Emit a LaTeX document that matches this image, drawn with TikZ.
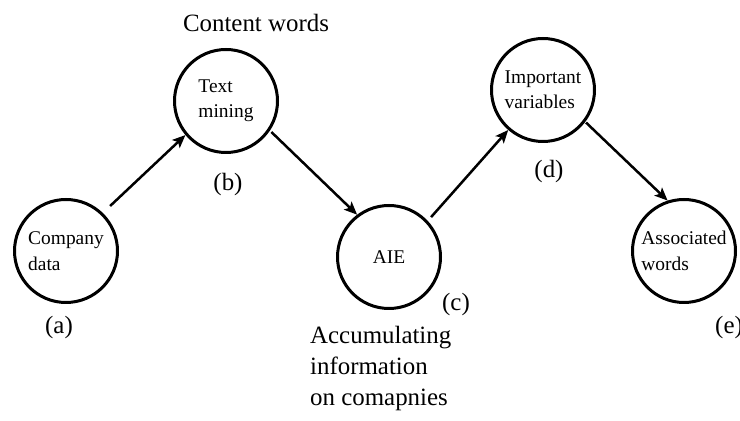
\documentclass[tikz,border=0pt]{standalone}
\usepackage{fontspec}
\setmainfont{Liberation Serif}
\usetikzlibrary{arrows.meta}
\tikzset{
  stage/.style={circle,draw=black,line width=3bp,minimum size=103bp,inner sep=0pt,align=left,
    font=\fontsize{19.5}{25.5}\selectfont},
  tag/.style={font=\fontsize{25}{31.5}\selectfont,inner sep=0pt},
}
\begin{document}
\begin{tikzpicture}[>={Stealth[length=13bp,width=11bp,inset=3bp]},line join=bevel,]
%%
\useasboundingbox (0bp,0bp) rectangle (740bp,421bp);
\node (node_a) at (66.0bp,170.0bp) [stage] {Company\\data};
  \node (node_b) at (226.0bp,320.0bp) [stage] {Text\\mining};
  \node (node_c) at (389.0bp,164.0bp) [stage] {AIE};
  \node (node_d) at (543.0bp,331.0bp) [stage] {Important\\variables};
  \node (node_e) at (684.0bp,170.0bp) [stage] {Associated\\words};
  \node (tag_a) at (59.0bp,93.0bp) [tag] {(a)};
  \node (tag_b) at (228.0bp,236.0bp) [tag] {(b)};
  \node (tag_c) at (456.0bp,116.0bp) [tag] {(c)};
  \node (tag_d) at (549.0bp,249.0bp) [tag] {(d)};
  \node (tag_e) at (715.0bp,93.0bp) [tag,anchor=west] {(e)};
  \node (content) at (256.0bp,398.0bp) [tag] {Content words};
  \node (accum) at (310.0bp,52.5bp) [tag,anchor=west,align=left] {Accumulating\\information\\on comapnies};
  \draw [black,->,line width=2.5bp,shorten <=10bp] (node_a.46) -- (node_b.-140);
  \draw [black,->,line width=2.5bp,shorten <=2bp] (node_b.-34) -- (node_c.127);
  \draw [black,->,line width=2.5bp,shorten <=5bp] (node_c.43) -- (node_d.-131);
  \draw [black,->,line width=2.5bp,shorten <=1bp] (node_d.-37) -- (node_e.108);
%
\end{tikzpicture}
\end{document}
